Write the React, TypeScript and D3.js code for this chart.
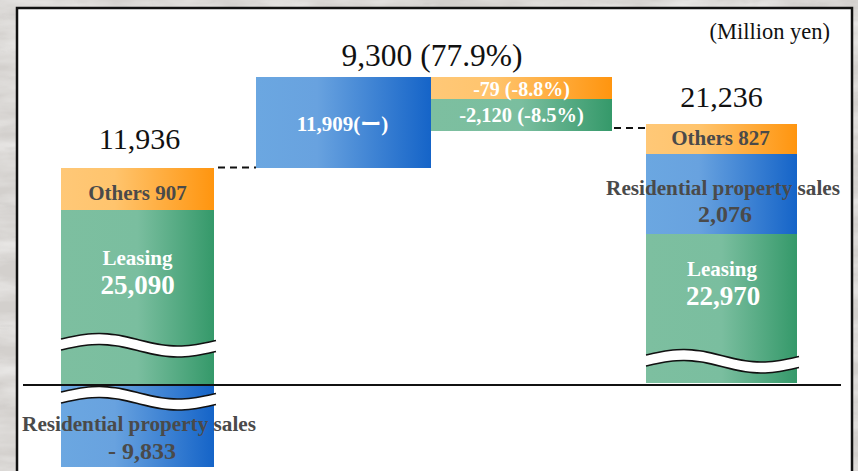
import React from "react";
import * as d3 from "d3";

// ---- Data (values in million yen) ----
const unitLabel = "(Million yen)";
const totalValues = [11936, 21236];
const changeValue = 9300;
const changePct = "77.9%";

// Left (previous) bar segments
const prevNames = ["Residential property sales", "Leasing", "Others"];
const prevValues = [-9833, 25090, 907];
// Change segments
const changeNames = ["Residential property sales", "Others", "Leasing"];
const changeValues = [11909, -79, -2120];
const changePcts = ["ー", "-8.8%", "-8.5%"];
// Right (current) bar segments
const currNames = ["Leasing", "Residential property sales", "Others"];
const currValues = [22970, 2076, 827];

// Schematic (non-proportional) extents of each segment on the broken axis
const prevExtents: [number, number][] = [[-82, 0], [0, 175], [175, 217]];
const changeExtents: [number, number][] = [[217, 308], [286, 308], [254, 286]];
const currExtents: [number, number][] = [[2, 151], [151, 231], [231, 261]];
// Column slots (schematic horizontal units)
const slots: [number, number][] = [[61, 214], [256, 431], [431, 612], [646, 797]];

const W = 858;
const H = 471;
const fmt = (v: number) => d3.format(",")(v).replace("\u2212", "-");

const y = d3.scaleLinear().domain([-82, 308]).range([467, 77]);
const x = d3.scaleLinear().domain([0, W]).range([0, W]);

const SERIF = "'Liberation Serif', 'Times New Roman', 'Noto Sans CJK JP', serif";

const gradOf: Record<string, string> = {
  Others: "url(#gOrange)",
  Leasing: "url(#gGreen)",
  "Residential property sales": "url(#gBlue)",
};

function WaveBreak({ x0, x1, yTop }: { x0: number; x1: number; yTop: number }) {
  const gap = 11;
  const n = 21;
  const top = d3.range(n).map((i) => {
    const t = i / (n - 1);
    return [x0 + (x1 - x0 + 2) * t, yTop - 6 * Math.sin(2 * Math.PI * t) + 1.5 * t] as [number, number];
  });
  const bot = top.map(([px, py]) => [px, py + gap] as [number, number]);
  const area = d3
    .area<[number, number]>()
    .x((d) => d[0])
    .y0((d) => d[1])
    .y1((d) => d[1] + gap)
    .curve(d3.curveBasis)(top) as string;
  const line = d3.line().curve(d3.curveBasis);
  return (
    <g>
      <path d={area} fill="#fff" />
      <path d={line(top) as string} fill="none" stroke="#111" strokeWidth={1.6} />
      <path d={line(bot) as string} fill="none" stroke="#111" strokeWidth={1.6} />
    </g>
  );
}

function Seg({ slot, ext, fill }: { slot: [number, number]; ext: [number, number]; fill: string }) {
  return (
    <rect
      x={x(slot[0])}
      y={y(ext[1])}
      width={x(slot[1]) - x(slot[0])}
      height={y(ext[0]) - y(ext[1])}
      fill={fill}
    />
  );
}

export default function App() {
  const cx = (s: [number, number]) => (x(s[0]) + x(s[1])) / 2;
  const L = slots[0];
  const B = slots[1];
  const C = slots[2];
  const R = slots[3];
  const gray = "#4a4a4a";

  return (
    <svg
      width={W}
      height={H}
      style={{ position: "fixed", left: 0, top: 0, display: "block" }}
      fontFamily={SERIF}
    >
      <defs>
        <linearGradient id="gOrange" x1="0" x2="1" y1="0" y2="0">
          <stop offset="0" stopColor="#ffc877" />
          <stop offset="0.35" stopColor="#ffc46d" />
          <stop offset="1" stopColor="#ff950f" />
        </linearGradient>
        <linearGradient id="gGreen" x1="0" x2="1" y1="0" y2="0">
          <stop offset="0" stopColor="#7dbfa0" />
          <stop offset="0.5" stopColor="#7abe9f" />
          <stop offset="1" stopColor="#35996a" />
        </linearGradient>
        <linearGradient id="gBlue" x1="0" x2="1" y1="0" y2="0">
          <stop offset="0" stopColor="#6ba7e1" />
          <stop offset="0.35" stopColor="#68a2df" />
          <stop offset="1" stopColor="#1564c8" />
        </linearGradient>
        <filter id="marble" x="0" y="0" width="100%" height="100%">
          <feTurbulence type="fractalNoise" baseFrequency="0.012 0.05" numOctaves="4" seed="7" />
          <feColorMatrix
            type="matrix"
            values="0 0 0 0 1  0 0 0 0 1  0 0 0 0 1  1.6 0 0 0 -0.55"
          />
        </filter>
        <filter id="marble2" x="0" y="0" width="100%" height="100%">
          <feTurbulence type="turbulence" baseFrequency="0.03 0.09" numOctaves="3" seed="2" />
          <feColorMatrix
            type="matrix"
            values="0 0 0 0 0.45  0 0 0 0 0.44  0 0 0 0 0.43  1.2 0 0 0 -0.6"
          />
        </filter>
      </defs>

      {/* marble background */}
      <rect x={0} y={0} width={W} height={H} fill="#d3d0cd" />
      <rect x={0} y={0} width={W} height={H} filter="url(#marble)" opacity={0.65} />
      <rect x={0} y={0} width={W} height={H} filter="url(#marble2)" opacity={0.4} />

      {/* white panel */}
      <rect x={17} y={8} width={835} height={480} fill="#fff" stroke="#111" strokeWidth={2.5} />

      {/* unit */}
      <text x={830} y={39} textAnchor="end" fontSize={22.5} fill="#111">
        {unitLabel}
      </text>

      {/* ---- Left bar ---- */}
      {prevNames.map((n, i) => (
        <Seg key={"p" + i} slot={L} ext={prevExtents[i]} fill={gradOf[n]} />
      ))}
      <WaveBreak x0={x(L[0])} x1={x(L[1])} yTop={339} />
      <WaveBreak x0={x(L[0])} x1={x(L[1])} yTop={392} />

      {/* ---- Change bars ---- */}
      <Seg slot={B} ext={changeExtents[0]} fill={gradOf[changeNames[0]]} />
      <Seg slot={C} ext={changeExtents[1]} fill={gradOf[changeNames[1]]} />
      <Seg slot={C} ext={changeExtents[2]} fill={gradOf[changeNames[2]]} />

      {/* ---- Right bar ---- */}
      {currNames.map((n, i) => (
        <Seg key={"c" + i} slot={R} ext={currExtents[i]} fill={gradOf[n]} />
      ))}
      <WaveBreak x0={x(R[0])} x1={x(R[1])} yTop={355} />

      {/* baseline */}
      <line x1={23} x2={841} y1={y(0)} y2={y(0)} stroke="#111" strokeWidth={2.2} />

      {/* connectors */}
      <line
        x1={x(L[1]) + 4}
        x2={x(B[0])}
        y1={y(prevExtents[2][1]) - 0.5}
        y2={y(prevExtents[2][1]) - 0.5}
        stroke="#111"
        strokeWidth={2}
        strokeDasharray="7,5"
      />
      <line
        x1={x(C[1]) + 2}
        x2={x(R[0])}
        y1={y(changeExtents[2][0]) - 3}
        y2={y(changeExtents[2][0]) - 3}
        stroke="#111"
        strokeWidth={2}
        strokeDasharray="7,5"
      />

      {/* totals */}
      <text x={cx(L) + 2} y={149} textAnchor="middle" fontSize={30} fill="#111">
        {fmt(totalValues[0])}
      </text>
      <text x={cx(R)} y={107} textAnchor="middle" fontSize={30} fill="#111">
        {fmt(totalValues[1])}
      </text>
      <text x={432} y={66} textAnchor="middle" fontSize={31.5} fill="#111">
        {`${fmt(changeValue)} (${changePct})`}
      </text>

      {/* left bar labels */}
      <g fontWeight="bold" textAnchor="middle">
        <text x={cx(L)} y={200} fontSize={21} fill={gray}>
          {`${prevNames[2]} ${fmt(prevValues[2])}`}
        </text>
        <text x={cx(L)} y={265} fontSize={21} fill="#fff">
          {prevNames[1]}
        </text>
        <text x={cx(L)} y={294} fontSize={27} fill="#fff">
          {fmt(prevValues[1])}
        </text>
        <text x={139} y={431} fontSize={21.2} fill={gray}>
          {prevNames[0]}
        </text>
        <text x={142} y={459} fontSize={24} fill={gray}>
          {`- ${fmt(Math.abs(prevValues[0]))}`}
        </text>

        {/* change labels */}
        <text x={cx(B) - 1} y={131} fontSize={21} fill="#fff">
          {`${fmt(changeValues[0])}(${changePcts[0]})`}
        </text>
        <text x={cx(C)} y={96} fontSize={20} fill="#fff">
          {`${fmt(changeValues[1])} (${changePcts[1]})`}
        </text>
        <text x={cx(C)} y={122} fontSize={20.5} fill="#fff">
          {`${fmt(changeValues[2])} (${changePcts[2]})`}
        </text>

        {/* right bar labels */}
        <text x={cx(R) - 1} y={145} fontSize={21} fill={gray}>
          {`${currNames[2]} ${fmt(currValues[2])}`}
        </text>
        <text x={723} y={195} fontSize={21.2} fill={gray}>
          {currNames[1]}
        </text>
        <text x={725} y={222} fontSize={24} fill={gray}>
          {fmt(currValues[1])}
        </text>
        <text x={722} y={276} fontSize={21} fill="#fff">
          {currNames[0]}
        </text>
        <text x={723} y={305} fontSize={27} fill="#fff">
          {fmt(currValues[0])}
        </text>
      </g>
    </svg>
  );
}
